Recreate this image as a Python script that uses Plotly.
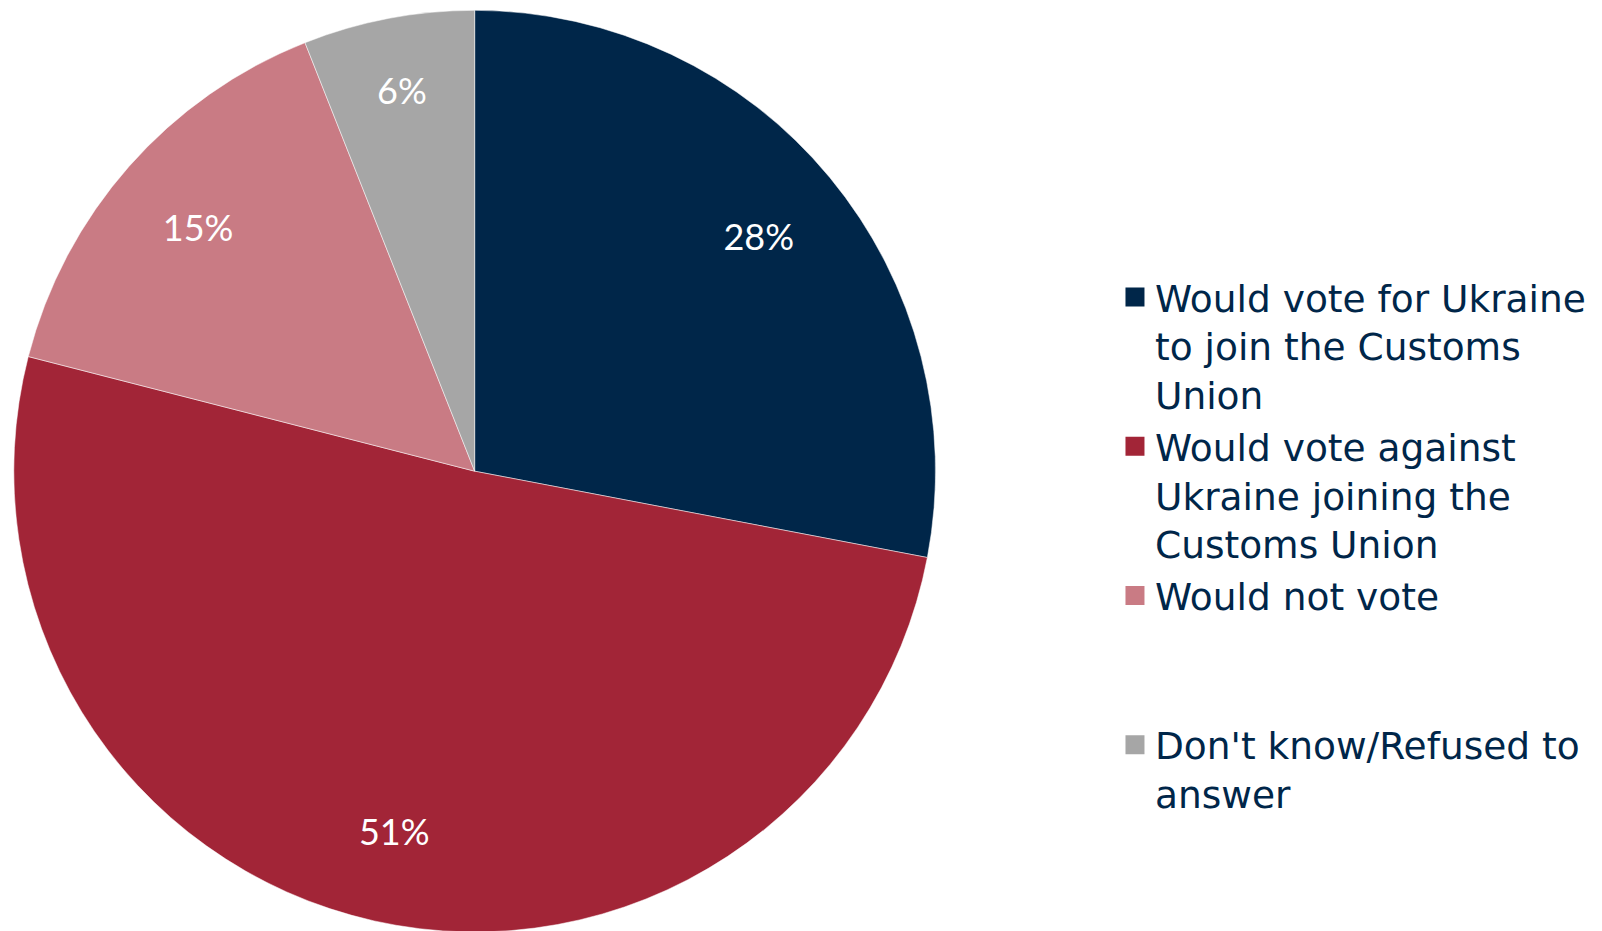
import plotly.graph_objects as go

labels = [
    "Would vote for Ukraine<br>to join the Customs<br>Union",
    "Would vote against<br>Ukraine joining the<br>Customs Union",
    "Would not vote<br> <br> ",
    "Don't know/Refused to<br>answer",
]
values = [28, 51, 15, 6]
colors = ["#002649", "#A22537", "#C97B84", "#A6A6A6"]

dom = dict(x=[0.003, 0.5796], y=[0.0075, 0.9975])

fig = go.Figure()
# main pie (colours)
fig.add_trace(go.Pie(
    labels=labels, values=values, sort=False, direction="clockwise", rotation=0,
    marker=dict(colors=colors, line=dict(color="white", width=0.5)),
    textinfo="none", domain=dom, showlegend=False, hoverinfo="label+value",
))
# transparent ring used only to place percentage labels near the outer edge
fig.add_trace(go.Pie(
    labels=labels, values=values, sort=False, direction="clockwise", rotation=0,
    hole=0.6,
    marker=dict(colors=["rgba(0,0,0,0)"] * len(values), line=dict(width=0)),
    texttemplate="%{value}%", textposition="inside",
    insidetextorientation="horizontal",
    textfont=dict(family="Lato, Open Sans, sans-serif", size=36, color="white"),
    domain=dom, showlegend=False, hoverinfo="skip",
))
# legend entries with larger square symbols
for lab, col in zip(labels, colors):
    fig.add_trace(go.Scatter(
        x=[None], y=[None], mode="markers", name=lab,
        marker=dict(symbol="square", size=16, color=col, line=dict(color=col, width=3)),
        showlegend=True,
    ))

fig.update_layout(
    width=1602,
    height=931,
    margin=dict(l=0, r=0, t=0, b=0),
    paper_bgcolor="white",
    plot_bgcolor="white",
    xaxis=dict(visible=False),
    yaxis=dict(visible=False),
    showlegend=True,
    legend=dict(
        x=0.691, y=0.7227, xanchor="left", yanchor="top",
        valign="top",
        font=dict(family="DejaVu Sans, sans-serif", size=37.5, color="#002649"),
        tracegroupgap=0,
        itemsizing="trace",
    ),
)

fig.write_html("out.html")
